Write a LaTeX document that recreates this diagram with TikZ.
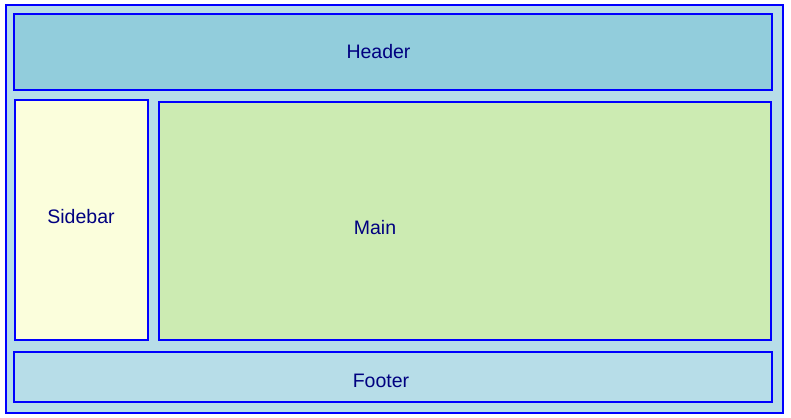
\documentclass[tikz,border=0pt]{standalone}
\usepackage{fontspec}
\setmainfont{Liberation Sans}
\definecolor{outerfill}{HTML}{B7DDE8}
\definecolor{headerfill}{HTML}{92CDDC}
\definecolor{sidefill}{HTML}{FBFEDC}
\definecolor{mainfill}{HTML}{CCEBB2}
\definecolor{footfill}{HTML}{B7DDE8}
\definecolor{boxline}{HTML}{0000FF}
\definecolor{labeltext}{HTML}{000080}
\begin{document}
\begin{tikzpicture}[x=1pt,y=-1pt,
  box/.style={draw=boxline,line width=2pt,rectangle,inner sep=0pt,outer sep=0pt,anchor=north west},
  lbl/.style={text=labeltext,font=\fontsize{19.5}{22}\selectfont,inner sep=0pt}]
\useasboundingbox (0,0) rectangle (791,417);
\node[box,fill=outerfill,minimum width=776.7pt,minimum height=407.4pt] (outer) at (6,5.3) {};
\node[box,fill=headerfill,minimum width=758pt,minimum height=76pt] (header) at (14.3,14.3) {};
\node[box,fill=sidefill,minimum width=132.4pt,minimum height=239.7pt] (sidebar) at (15.3,100) {};
\node[box,fill=mainfill,minimum width=612.3pt,minimum height=237.7pt] (main) at (159,102) {};
\node[box,fill=footfill,minimum width=757.4pt,minimum height=50pt] (footer) at (14.3,352.3) {};
\node[lbl] (headertext) at (378.5,51.5) {Header};
\node[lbl] (sidebartext) at (81,217) {Sidebar};
\node[lbl] (maintext) at (375,227.5) {Main};
\node[lbl] (footertext) at (381,380.5) {Footer};
\end{tikzpicture}
\end{document}
